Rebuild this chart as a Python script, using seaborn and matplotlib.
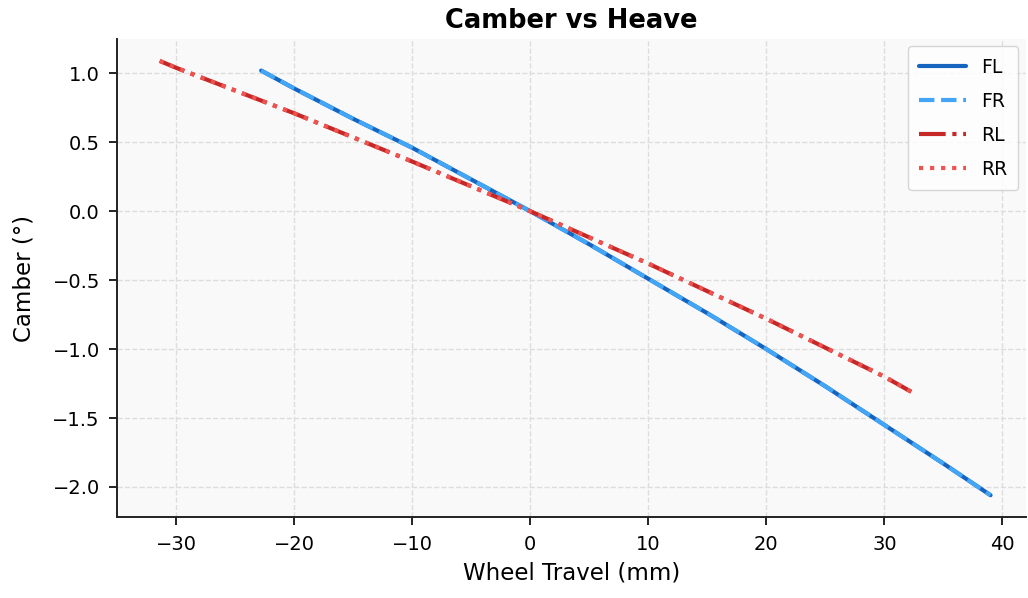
import numpy as np
import pandas as pd
import matplotlib
matplotlib.use("Agg")
import matplotlib.pyplot as plt
import seaborn as sns

# Front wheel travel (mm) and camber (deg)
front_travel = [-22.8, -20, -15, -10, -5, 0, 5, 10, 15, 20, 25, 30, 35, 39.0]
fl_camber = [1.02, 0.89, 0.67, 0.46, 0.23, 0.0, -0.24, -0.49, -0.74, -1.00, -1.27, -1.55, -1.83, -2.06]
fr_camber = [1.02, 0.89, 0.67, 0.46, 0.23, 0.0, -0.24, -0.49, -0.74, -1.00, -1.27, -1.55, -1.83, -2.06]

# Rear wheel travel (mm) and camber (deg)
rear_travel = [-31.4, -30, -20, -10, 0, 10, 20, 30, 32.7]
rl_camber = [1.09, 1.04, 0.71, 0.36, 0.0, -0.38, -0.78, -1.20, -1.33]
rr_camber = [1.09, 1.04, 0.71, 0.36, 0.0, -0.38, -0.78, -1.20, -1.33]

labels = ["FL", "FR", "RL", "RR"]
colors = ["#1565C0", "#42A5F5", "#C62828", "#EF5350"]
styles = ["-", "--", "-.", ":"]

sns.set_style("white")
plt.rcParams.update({
    "text.color": "black", "axes.labelcolor": "black",
    "xtick.color": "black", "ytick.color": "black",
})
fig, ax = plt.subplots(figsize=(10.28, 5.98), dpi=100)
ax.set_facecolor("#f9f9f9")

series = [(front_travel, fl_camber), (front_travel, fr_camber),
          (rear_travel, rl_camber), (rear_travel, rr_camber)]
for (x, y), lab, c, ls in zip(series, labels, colors, styles):
    sns.lineplot(x=x, y=y, ax=ax, color=c, linestyle=ls, linewidth=3.0, label=lab)

ax.set_xlim(-35, 42)
ax.set_ylim(-2.22, 1.25)
ax.set_xticks([-30, -20, -10, 0, 10, 20, 30, 40])
ax.set_yticks([-2.0, -1.5, -1.0, -0.5, 0.0, 0.5, 1.0])
ax.grid(True, linestyle="--", color="#dddddd", linewidth=1.0)
ax.set_axisbelow(True)
for s in ["top", "right"]:
    ax.spines[s].set_visible(False)
for s in ["left", "bottom"]:
    ax.spines[s].set_color("#222222")
    ax.spines[s].set_linewidth(1.4)
ax.tick_params(axis="both", labelsize=14, length=6, width=1.4, pad=6.5,
               color="#222222", left=True, bottom=True)

ax.set_title("Camber vs Heave", fontsize=18.5, fontweight="bold", pad=8)
ax.set_xlabel("Wheel Travel (mm)", fontsize=16.5, labelpad=6)
ax.set_ylabel("Camber (°)", fontsize=16.5, labelpad=12)
leg = ax.legend(loc="upper right", fontsize=13.5, frameon=True, handlelength=2.5,
                handletextpad=0.8, labelspacing=0.8, borderpad=0.6,
                borderaxespad=0.4)
leg.get_frame().set_edgecolor("#cccccc")

fig.subplots_adjust(left=0.114, right=0.998, top=0.935, bottom=0.135)
fig.savefig("out.png", dpi=100)
